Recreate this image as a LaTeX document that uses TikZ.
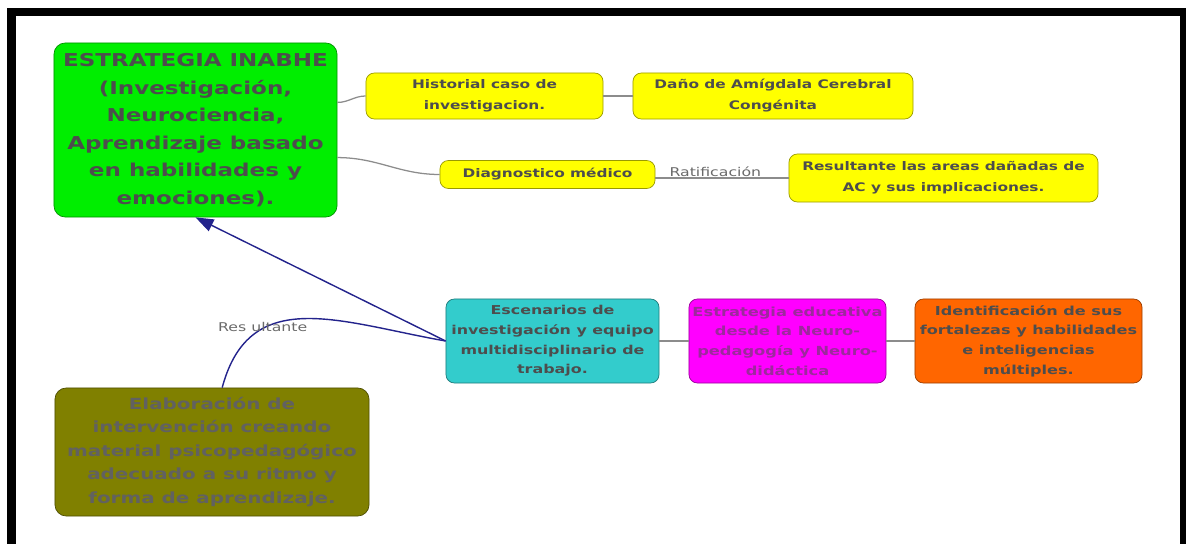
\documentclass[tikz,border=0pt]{standalone}
\usepackage{fontspec}
\newfontfamily\mapfont{DejaVu Sans}[FakeStretch=1.3]
\usepackage{tikz}
\usetikzlibrary{arrows.meta}

\definecolor{inkgray}{HTML}{4D4D4D}
\definecolor{taggray}{HTML}{6A6A6A}
\definecolor{linkgray}{HTML}{8C8C8C}
\definecolor{navyline}{HTML}{23238C}
\definecolor{mapgreen}{HTML}{00EE00}
\definecolor{mapyellow}{HTML}{FFFF00}
\definecolor{mapteal}{HTML}{33CCCC}
\definecolor{mapmagenta}{HTML}{FF00FF}
\definecolor{maporange}{HTML}{FF6600}
\definecolor{mapolive}{HTML}{808000}
\definecolor{eduink}{HTML}{9C2A9C}

\begin{document}
\begin{tikzpicture}[x=0.025cm, y=-0.025cm,
    box/.style={draw=#1!60!black, fill=#1, rounded corners=6pt, line width=0.5pt,
        align=center, inner sep=0pt, text=inkgray},
    link/.style={draw=linkgray, line width=0.9pt},
    navylink/.style={draw=navyline, line width=1pt},
    tag/.style={font=\mapfont\fontsize{8.6}{10}\selectfont, text=taggray, inner sep=1pt}]

  \useasboundingbox (0,0) rectangle (1186,544);
  \fill[black] (7,8) rectangle (1186,16);
  \fill[black] (7,8) rectangle (16,544);
  \fill[black] (1180,8) rectangle (1186,544);

  \node[box=mapgreen, rounded corners=8pt, minimum width=7.075cm, minimum height=4.35cm,
        font=\mapfont\bfseries\fontsize{12.6}{19.6}\selectfont] (inabhe) at (195.5,130)
        {ESTRATEGIA INABHE\\(Investigación,\\Neurociencia,\\Aprendizaje basado\\en habilidades y\\emociones).};

  \node[box=mapyellow, minimum width=5.925cm, minimum height=1.15cm,
        font=\mapfont\bfseries\fontsize{8.4}{15}\selectfont] (hist) at (484.5,96)
        {Historial caso de\\investigacion.};
  \node[box=mapyellow, minimum width=7cm, minimum height=1.15cm,
        font=\mapfont\bfseries\fontsize{8.4}{15}\selectfont] (dano) at (773,96)
        {Daño de Amígdala Cerebral\\Congénita};
  \node[box=mapyellow, minimum width=5.375cm, minimum height=0.7cm,
        font=\mapfont\bfseries\fontsize{8.4}{15}\selectfont] (diag) at (547.5,174.5)
        {Diagnostico médico};
  \node[box=mapyellow, minimum width=7.725cm, minimum height=1.2cm,
        font=\mapfont\bfseries\fontsize{8.4}{15}\selectfont] (res) at (943.5,178)
        {Resultante las areas dañadas de\\AC y sus implicaciones.};

  \node[box=mapteal, minimum width=5.325cm, minimum height=2.1cm,
        font=\mapfont\bfseries\fontsize{8.7}{14}\selectfont] (esc) at (552.5,341)
        {Escenarios de\\investigación y equipo\\multidisciplinario de\\trabajo.};
  \node[box=mapmagenta, minimum width=4.925cm, minimum height=2.1cm, text=eduink,
        font=\mapfont\bfseries\fontsize{8.9}{14}\selectfont] (edu) at (787.5,341)
        {Estrategia educativa\\desde la Neuro-\\pedagogía y Neuro-\\didáctica};
  \node[box=maporange, minimum width=5.675cm, minimum height=2.1cm,
        font=\mapfont\bfseries\fontsize{8.8}{14}\selectfont] (ident) at (1028.5,341)
        {Identificación de sus\\fortalezas y habilidades\\e inteligencias\\múltiples.};

  \node[box=mapolive, rounded corners=8pt, minimum width=7.85cm, minimum height=3.2cm,
        text=black!62, font=\mapfont\bfseries\fontsize{10.9}{16.7}\selectfont] (elab) at (212,452)
        {Elaboración de\\intervención creando\\material psicopedagógico\\adecuado a su ritmo y\\forma de aprendizaje.};

  \draw[link] (inabhe.11) to[out=0,in=180] (hist.west);
  \draw[link] (inabhe.-11) to[out=0,in=180] (diag.west);
  \foreach \a/\b in {hist/dano, esc/edu, edu/ident}
    \draw[link] (\a.east) -- (\b.west);
  \draw[link] (diag.east |- res.west) -- node[tag, pos=0.45, above, inner sep=0.5pt] {Ratificación} (res.west);

  \draw[navylink, -{Triangle[length=4.5mm, width=3.2mm]}] (esc.west) -- (inabhe.south);
  \draw[navylink] (esc.west) to[out=170, in=75, looseness=1.2]
        node[tag, pos=0.7, yshift=1pt] {Res ultante} (elab.81);
\end{tikzpicture}
\end{document}
